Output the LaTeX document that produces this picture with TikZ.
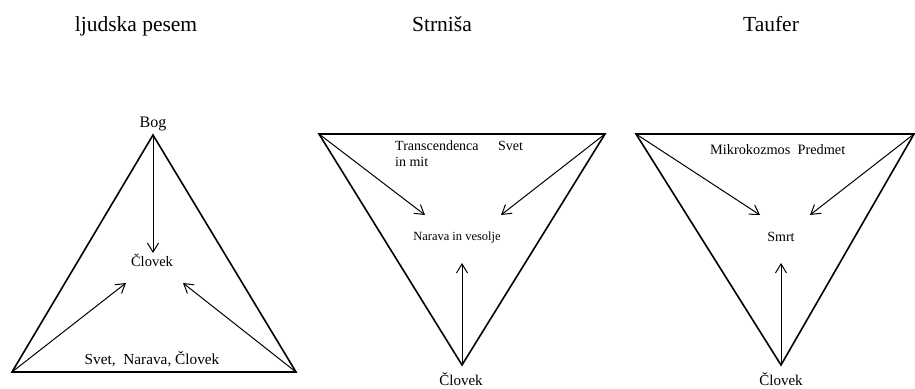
\documentclass[tikz,border=0pt]{standalone}
\usepackage{fontspec}
\setmainfont{Liberation Serif}
\usetikzlibrary{arrows.meta, positioning}

\begin{document}
\begin{tikzpicture}[x=1pt, y=-1pt,
  side/.style={line width=1.6pt, line join=miter},
  ray/.style={line width=1pt, -{Straight Barb[length=9pt, width=11pt]}},
  title/.style={font=\fontsize{21.5}{24}\selectfont, anchor=base, inner sep=0pt},
  lbl/.style={font=\fontsize{14}{16}\selectfont, anchor=base, inner sep=0pt},
  small/.style={font=\fontsize{14}{15}\selectfont, anchor=base west, inner sep=0pt}]
\useasboundingbox (0,0) rectangle (915,388);

% ljudska pesem
\node[title] (tLjudska) at (136,31) {ljudska pesem};
\coordinate (aTop) at (153,135);
\coordinate (aLeft) at (12,372);
\coordinate (aRight) at (296,372);
\draw[side] (aTop) -- (aLeft) -- (aRight) -- cycle;
\node[lbl, font=\fontsize{16}{18}\selectfont] (bog) at (153,127) {Bog};
\node[lbl, font=\fontsize{14.5}{16}\selectfont] (clovekA) at (152,266) {Človek};
\node[lbl, font=\fontsize{15.3}{17}\selectfont] (svetA) at (152,364) {Svet,\ \ Narava, Človek};
\coordinate (aDown) at (153,253);
\coordinate (aInL) at (126,283);
\coordinate (aInR) at (183,283);
\draw[ray] (aTop) -- (aDown);
\draw[ray] (aLeft) -- (aInL);
\draw[ray] (aRight) -- (aInR);

% Strniša
\node[title] (tStrnisa) at (442,31) {Strniša};
\coordinate (bLeft) at (319,134);
\coordinate (bRight) at (605,134);
\coordinate (bBot) at (462,365);
\draw[side] (bLeft) -- (bRight) -- (bBot) -- cycle;
\node[small] (transc) at (395,150) {Transcendenca};
\node[small] (inmit) at (395,166) {in mit};
\node[small] (svetB) at (498,150) {Svet};
\node[lbl, font=\fontsize{12.5}{15}\selectfont] (narava) at (457,240) {Narava in vesolje};
\node[lbl, font=\fontsize{15}{17}\selectfont] (clovekB) at (461,385) {Človek};
\coordinate (bInL) at (425,215);
\coordinate (bInR) at (501,215);
\coordinate (bUp) at (462,263);
\draw[ray] (bLeft) -- (bInL);
\draw[ray] (bRight) -- (bInR);
\draw[ray] (bBot) -- (bUp);

% Taufer
\node[title] (tTaufer) at (771,31) {Taufer};
\coordinate (cLeft) at (636,134);
\coordinate (cRight) at (914,134);
\coordinate (cBot) at (781,365);
\draw[side] (cLeft) -- (cRight) -- (cBot) -- cycle;
\node[small, font=\fontsize{14.3}{15}\selectfont] (mikro) at (710,154) {Mikrokozmos\ \ Predmet};
\node[lbl] (smrt) at (781,241) {Smrt};
\node[lbl, font=\fontsize{15}{17}\selectfont] (clovekC) at (781,385) {Človek};
\coordinate (cInL) at (760,215);
\coordinate (cInR) at (810,215);
\coordinate (cUp) at (781,263);
\draw[ray] (cLeft) -- (cInL);
\draw[ray] (cRight) -- (cInR);
\draw[ray] (cBot) -- (cUp);
\end{tikzpicture}
\end{document}
